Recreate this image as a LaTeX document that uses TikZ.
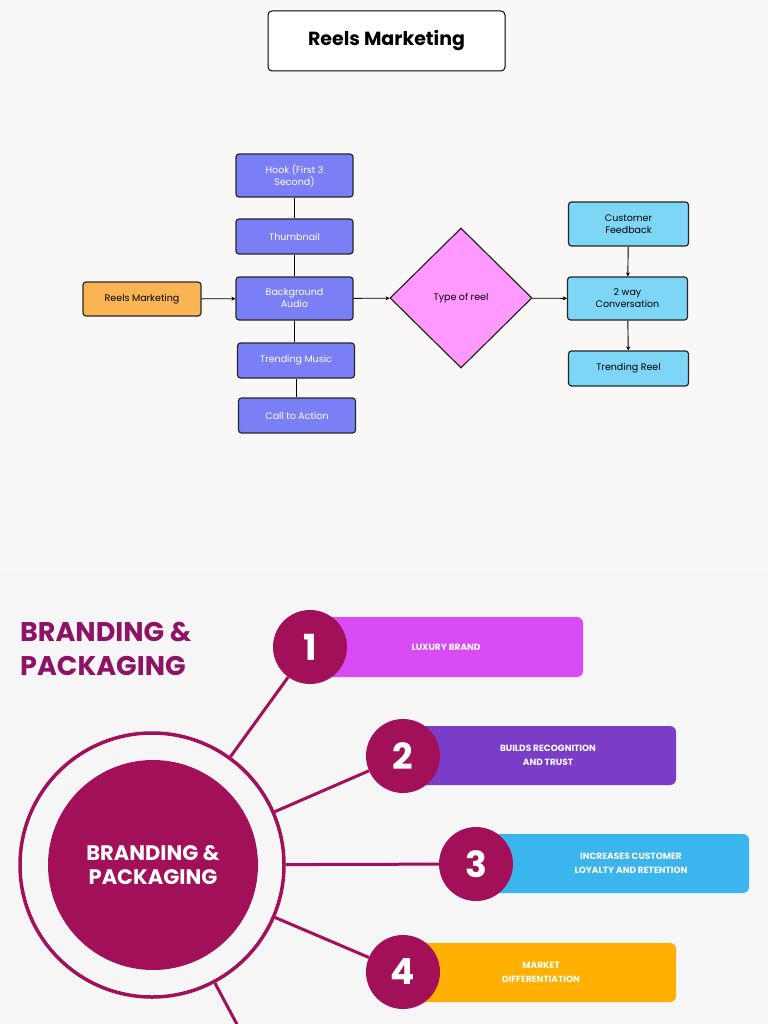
\documentclass[tikz,border=0pt]{standalone}
\usepackage{fontspec}
\setmainfont{Poppins}
\usetikzlibrary{shapes.geometric,arrows.meta}
\definecolor{bgtop}{HTML}{F9F8F6}
\definecolor{bgbot}{HTML}{F6F6F6}
\definecolor{vio}{HTML}{7B7FF5}
\definecolor{org}{HTML}{FBB454}
\definecolor{pnk}{HTML}{FF99FF}
\definecolor{cyn}{HTML}{7DD6F5}
\definecolor{plum}{HTML}{A3105A}
\definecolor{plumt}{HTML}{8E1265}
\definecolor{b1}{HTML}{D94BF5}
\definecolor{b2}{HTML}{7B3CC8}
\definecolor{b3}{HTML}{3BB5EE}
\definecolor{b4}{HTML}{FFB000}
\begin{document}
\begin{tikzpicture}[x=1pt,y=-1pt,
  fbox/.style={draw=black!85,line width=1.2pt,rounded corners=3pt,minimum width=#1,align=center,font=\fontsize{9.5}{12}\selectfont,inner sep=2pt},
  vbox/.style={fbox=117pt,fill=vio,text=white},
  cbox/.style={fbox=120pt,fill=cyn,text=black},
  lnk/.style={line width=0.9pt},
  arr/.style={line width=0.9pt,-{Stealth[length=4pt,width=4pt]}},
  num/.style={circle,fill=plum,minimum size=74pt,text=white,font=\fontsize{36}{36}\selectfont\bfseries,inner sep=0pt},
  bar/.style={fill=#1,rounded corners=6pt},
  btxt/.style={text=white,font=\fontsize{9}{14}\selectfont\bfseries,align=center},
  plline/.style={draw=plum,line width=3pt}]
\useasboundingbox (0,0) rectangle (768,1024);
\fill[bgtop] (0,0) rectangle (768,575);
\fill[bgbot] (0,575) rectangle (768,1024);
% title
\node[draw=black,line width=1pt,fill=white,rounded corners=4pt,minimum width=237pt,minimum height=60pt,font=\fontsize{19}{22}\selectfont\bfseries] (title) at (386.5,41) {Reels Marketing};
% flowchart
\node[vbox,minimum height=43pt] (hook) at (294.5,175.5) {Hook (First 3\\Second)};
\node[vbox,minimum height=35pt] (thumb) at (294.5,236.5) {Thumbnail};
\node[vbox,minimum height=43pt] (bga) at (294.5,298.5) {Background\\Audio};
\node[vbox,minimum height=35pt] (music) at (296,360.5) {Trending Music};
\node[vbox,minimum height=35pt] (cta) at (297,415.5) {Call to Action};
\node[fbox=118pt,fill=org,minimum height=34pt] (reels) at (142,299) {Reels Marketing};
\node[diamond,draw=black!85,line width=1.2pt,fill=pnk,minimum width=142pt,minimum height=140pt,inner sep=0pt,font=\fontsize{9.5}{12}\selectfont] (type) at (461,298) {Type of reel};
\node[cbox,minimum height=44pt] (cf) at (628.5,224) {Customer\\Feedback};
\node[cbox,minimum height=43pt] (conv) at (627.5,298.5) {2 way\\Conversation};
\node[cbox,minimum height=35pt] (trend) at (628.5,368.5) {Trending Reel};
\draw[lnk] (hook) -- (thumb);
\draw[lnk] (thumb) -- (bga);
\draw[lnk] (bga.south) -- (bga.south |- music.north);
\draw[lnk] (music.south) -- (music.south |- cta.north);
\draw[arr] (reels) -- (bga);
\draw[arr] (bga) -- (type);
\draw[arr] (type) -- (conv);
\draw[arr] (cf) -- (conv);
\draw[arr] (conv) -- (trend);
% branding section
\node[anchor=west,text=plumt,font=\fontsize{27}{34}\selectfont\bfseries,align=left,inner sep=0pt] (btitle) at (20,649) {BRANDING \&\\PACKAGING};
\node[circle,draw=plum,line width=3.5pt,minimum size=264pt,inner sep=0pt] (outer) at (152,865) {};
\node[circle,fill=plum,minimum size=210pt,inner sep=0pt,text=white,font=\fontsize{21}{24}\selectfont\bfseries,align=center] (inner) at (153,865) {BRANDING \&\\PACKAGING};
\fill[bar=b1] (300,617) rectangle (583,677);
\fill[bar=b2] (393,726) rectangle (676,785);
\fill[bar=b3] (466,834) rectangle (749,893);
\fill[bar=b4] (393,943) rectangle (676,1002);
\node[btxt] (t1) at (446,647) {LUXURY BRAND};
\node[btxt] (t2) at (548,755) {BUILDS RECOGNITION\\AND TRUST};
\node[btxt] (t3) at (631,863) {INCREASES CUSTOMER\\LOYALTY AND RETENTION};
\node[btxt] (t4) at (541,972) {MARKET\\DIFFERENTIATION};
\node[num] (n1) at (310,647) {1};
\node[num] (n2) at (403,756) {2};
\node[num] (n3) at (476,864) {3};
\node[num] (n4) at (403,972) {4};
\coordinate (e5) at (240,1030);
\draw[plline] (outer) -- (n1);
\draw[plline] (outer) -- (n2);
\draw[plline] (outer) -- (n3);
\draw[plline] (outer) -- (n4);
\draw[plline] (outer) -- (e5);
\end{tikzpicture}
\end{document}
